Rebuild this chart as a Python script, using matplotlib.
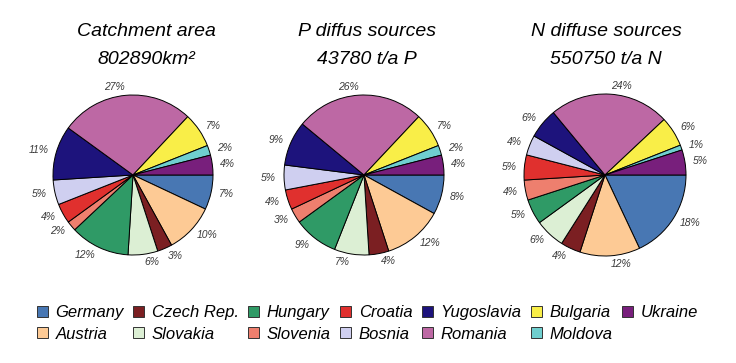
import matplotlib
matplotlib.use("Agg")
import matplotlib.pyplot as plt
from matplotlib.patches import Patch

plt.rcParams["font.family"] = ["Liberation Sans", "DejaVu Sans"]

# slice order = legend order (clockwise from 3 o'clock)
countries = ["Germany", "Austria", "Czech Rep.", "Slovakia", "Hungary", "Slovenia",
             "Croatia", "Bosnia", "Yugoslavia", "Romania", "Bulgaria", "Moldova", "Ukraine"]
colors = ["#4877b3", "#fdca95", "#7b1f22", "#dcefd4", "#2f9a66", "#ee7f6e",
          "#e0302e", "#cfcff0", "#1d137c", "#bd68a4", "#f9ee48", "#6fcfcf", "#781f7c"]

catchment = [7, 10, 3, 6, 12, 2, 4, 5, 11, 27, 7, 2, 4]
p_diffuse = [8, 12, 4, 7, 9, 3, 4, 5, 9, 26, 7, 2, 4]
n_diffuse = [18, 12, 4, 6, 5, 4, 5, 4, 6, 24, 6, 1, 5]

titles = [("Catchment area", "802890km²"),
          ("P diffus sources", "43780 t/a P"),
          ("N diffuse sources", "550750 t/a N")]

W, H = 736, 363
fig = plt.figure(figsize=(W / 100, H / 100), dpi=100)

# pie centres / radius in pixels, title centres
centres = [(133, 175, 80), (364, 175, 80), (605, 175, 81)]
title_x = [146, 367, 606]

for data, (cx, cy, r), (t1, t2), tx in zip([catchment, p_diffuse, n_diffuse], centres, titles, title_x):
    ax = fig.add_axes([(cx - r) / W, (H - cy - r) / H, 2 * r / W, 2 * r / H])
    ax.pie(data, colors=colors, startangle=0, counterclock=False,
           labels=[f"{v}%" for v in data], labeldistance=1.1,
           wedgeprops={"edgecolor": "black", "linewidth": 0.7},
           textprops={"fontsize": 7.5, "style": "italic", "color": "#3a3a3a"})
    ax.set_xlim(-1, 1)
    ax.set_ylim(-1, 1)
    ax.set_aspect("equal")
    fig.text(tx / W, 1 - 31 / H, t1, ha="center", va="center", fontsize=14, style="italic")
    fig.text(tx / W, 1 - 60 / H, t2, ha="center", va="center", fontsize=14, style="italic")

handles = [Patch(facecolor=c, edgecolor="#333333", linewidth=0.7) for c in colors]
fig.legend(handles, countries, ncol=7, loc="upper left", bbox_to_anchor=(37 / W, 1 - 305 / H),
           frameon=False, prop={"size": 12, "style": "italic"},
           handlelength=0.65, handleheight=0.65, handletextpad=0.45,
           columnspacing=0.58, labelspacing=0.4, borderpad=0, borderaxespad=0)

fig.savefig("out.png", dpi=100)
